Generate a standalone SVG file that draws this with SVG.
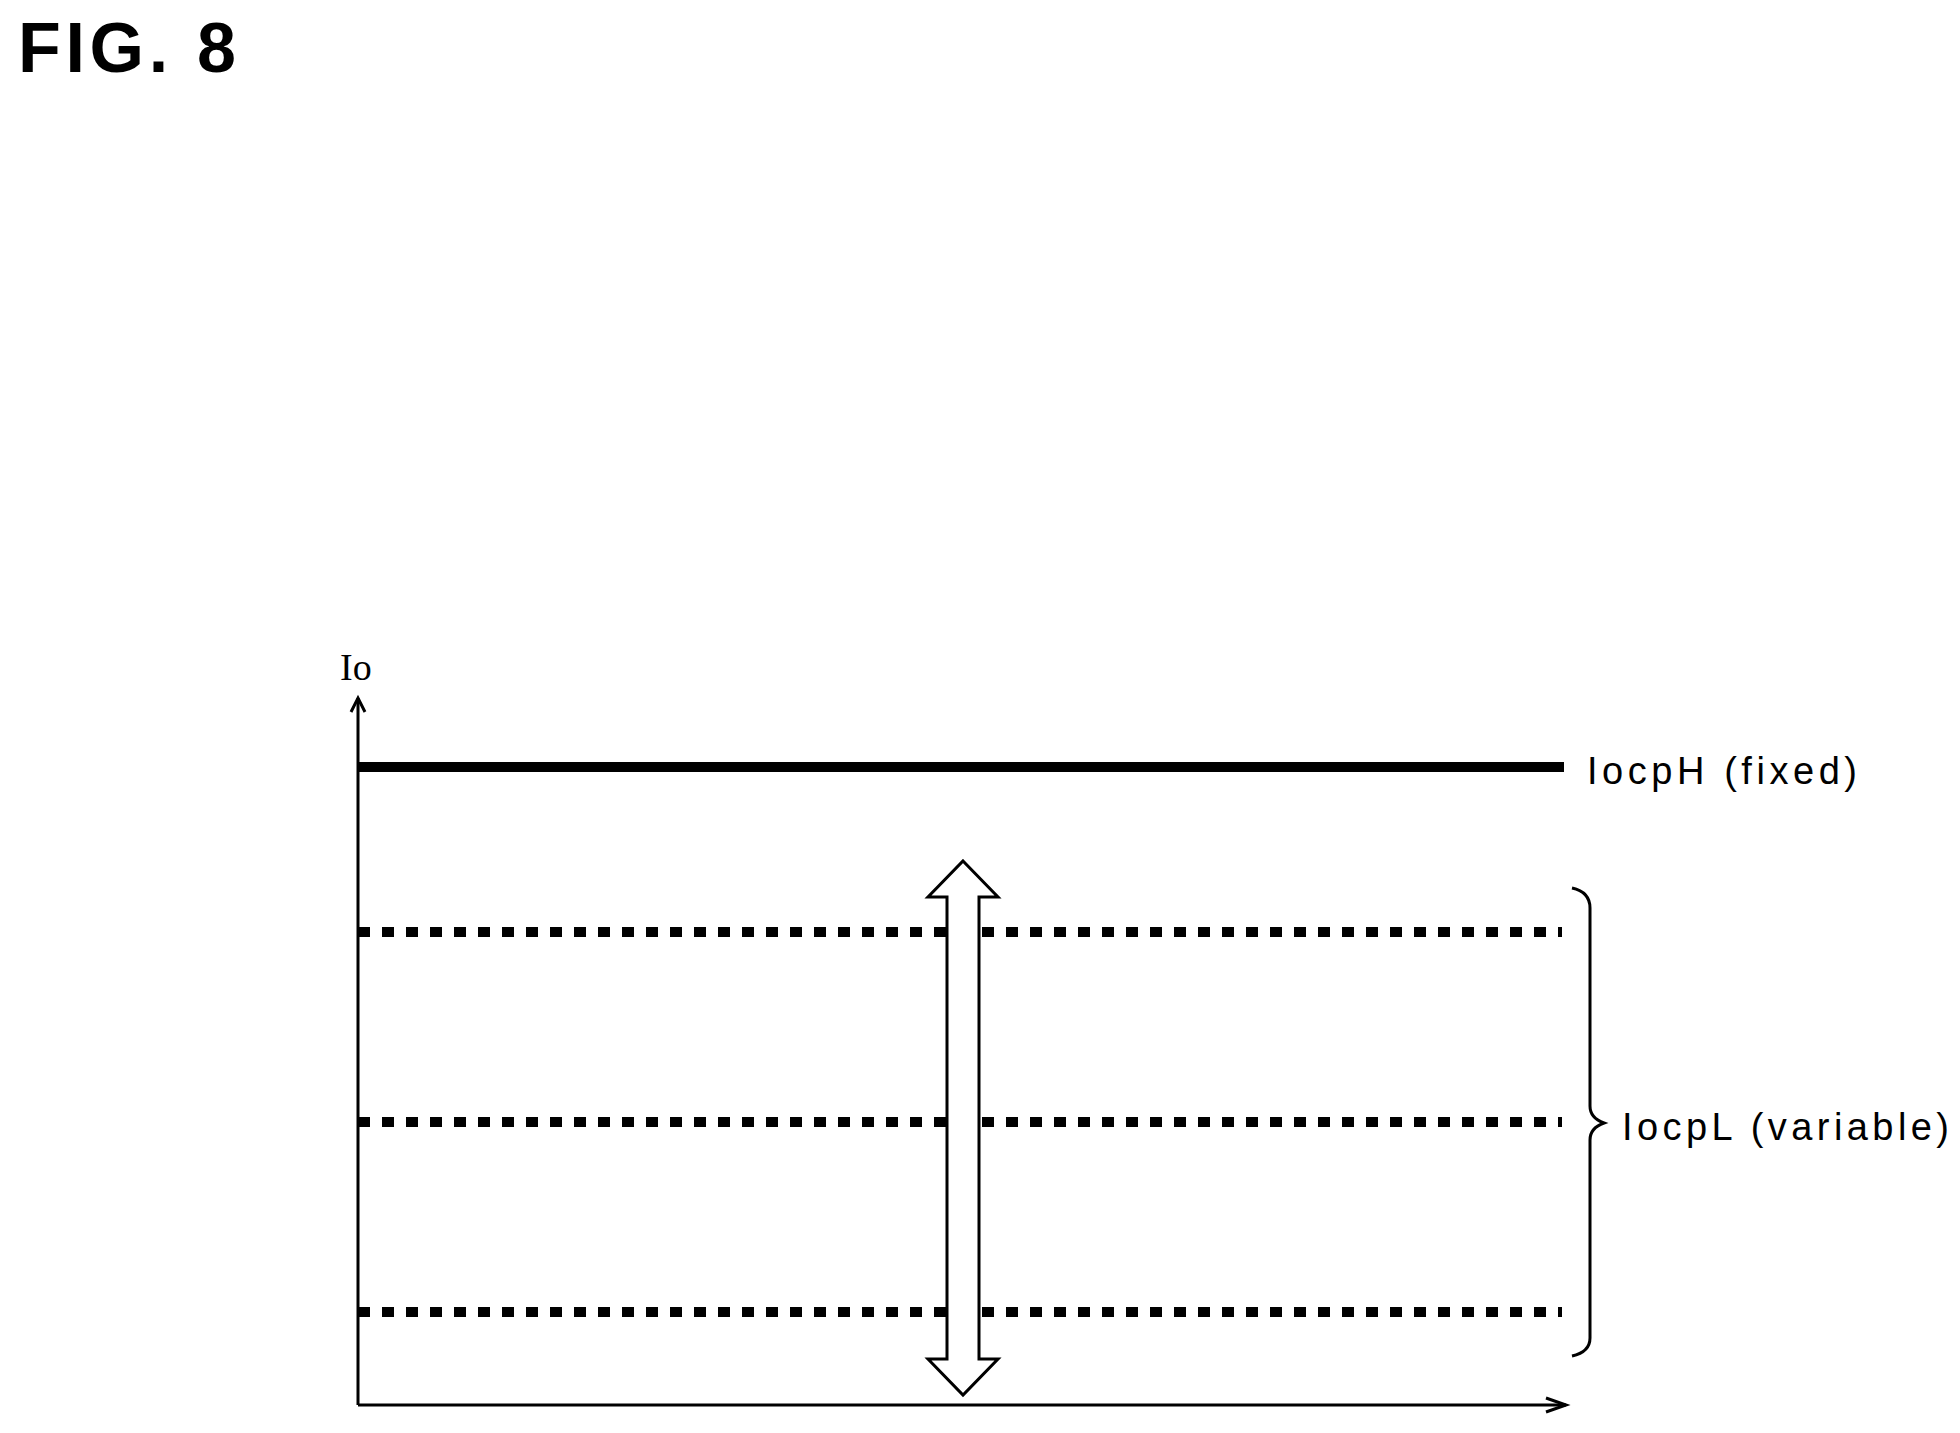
<svg xmlns="http://www.w3.org/2000/svg" width="1960" height="1433" viewBox="0 0 1960 1433">
<style>
.ax{stroke:#000;stroke-width:3;fill:none}
.dot{stroke:#000;stroke-width:10;stroke-dasharray:12 12;fill:none}
.lbl{font-family:"Liberation Sans",Arial,sans-serif;font-size:38px;fill:#000}
</style>
<rect width="1960" height="1433" fill="#fff"/>
<text x="18" y="72" font-family="Liberation Sans,Arial,sans-serif" font-weight="bold" font-size="70" textLength="218">FIG. 8</text>
<g id="connectors">
<line class="ax" x1="358" y1="1405" x2="358" y2="698"/>
<polyline class="ax" points="351,712 358,698 365,712"/>
<line class="ax" x1="358" y1="1405" x2="1566" y2="1405"/>
<polyline class="ax" points="1546,1398 1566,1405 1546,1412"/>
<line x1="358" y1="767" x2="1564" y2="767" stroke="#000" stroke-width="10"/>
<line class="dot" x1="358" y1="932" x2="1562" y2="932"/>
<line class="dot" x1="358" y1="1122" x2="1562" y2="1122"/>
<line class="dot" x1="358" y1="1312" x2="1562" y2="1312"/>
</g>
<g id="double-arrow">
<polygon points="963,861 998,897 979,897 979,1359 998,1359 963,1395 928,1359 947,1359 947,897 928,897" fill="#fff" stroke="#000" stroke-width="3"/>
</g>
<g id="brace">
<path d="M1572,888 Q1590,892 1590,908 L1590,1106 Q1590,1118 1604,1123 Q1590,1128 1590,1140 L1590,1338 Q1590,1352 1572,1356" class="ax"/>
</g>
<g id="labels">
<text x="340" y="680" font-family="Liberation Serif,serif" font-size="38">Io</text>
<text class="lbl" x="1587" y="784" textLength="270">IocpH (fixed)</text>
<text class="lbl" x="1622" y="1140" textLength="327">IocpL (variable)</text>
</g>
</svg>
